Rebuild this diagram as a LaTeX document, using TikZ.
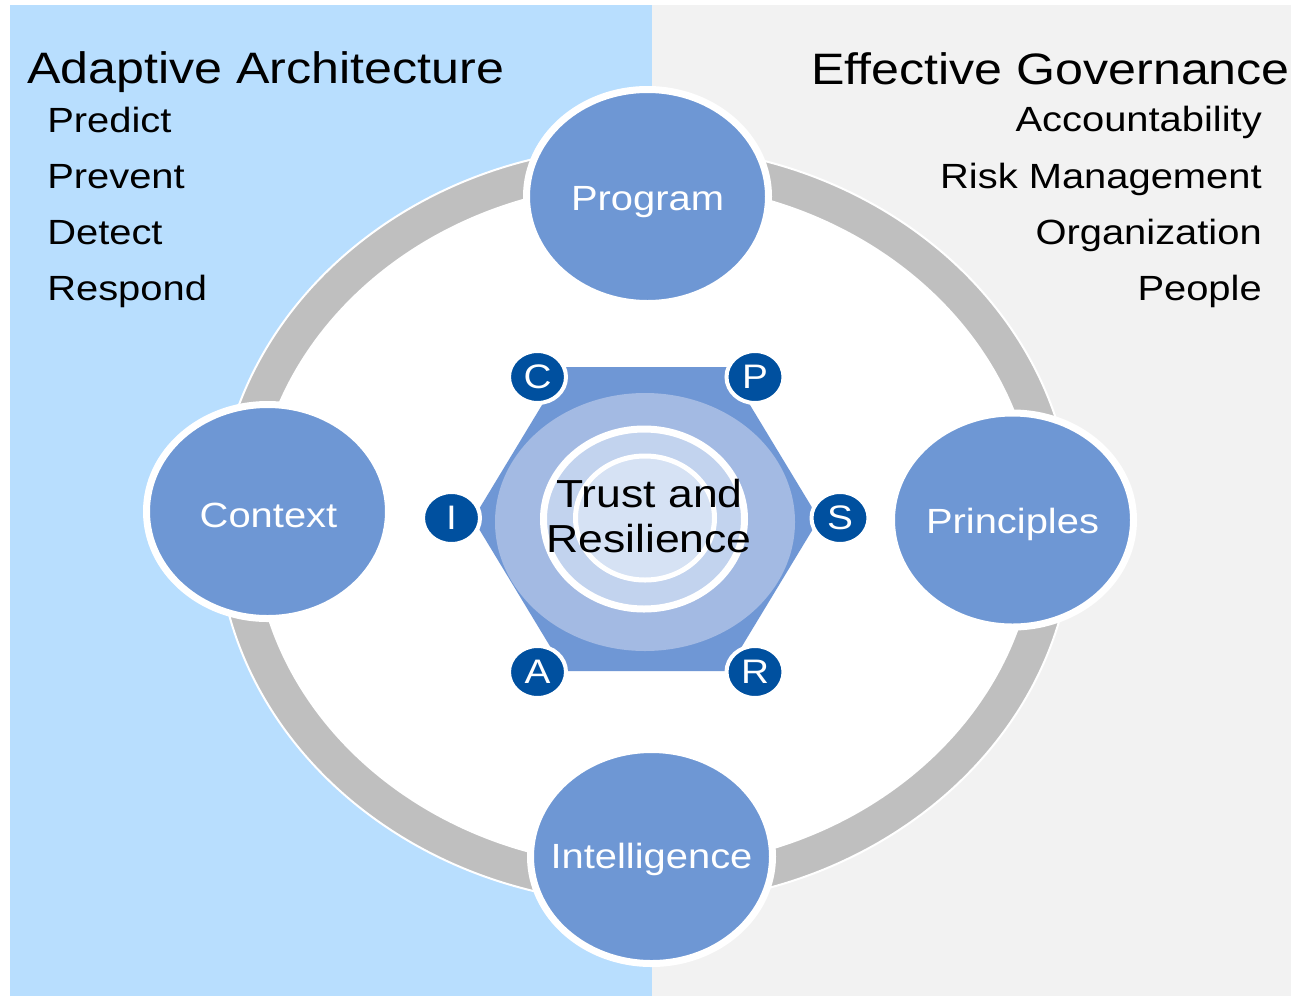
\documentclass[tikz,border=0pt]{standalone}
\usepackage{fontspec}
\setmainfont{Liberation Sans}[FakeStretch=1.14]
\usetikzlibrary{shapes.geometric}
\definecolor{panelblue}{RGB}{184,222,254}
\definecolor{panelgray}{RGB}{242,242,242}
\definecolor{ringgray}{RGB}{191,191,191}
\definecolor{midblue}{RGB}{110,151,212}
\definecolor{hexblue}{RGB}{111,151,213}
\definecolor{lightring}{RGB}{163,186,227}
\definecolor{paleblue}{RGB}{194,211,238}
\definecolor{palestblue}{RGB}{214,226,244}
\definecolor{darkblue}{RGB}{0,80,159}
\tikzset{
 bigcirc/.style={ellipse, fill=midblue, draw=white, line width=5.25pt, minimum width=181.5pt, minimum height=160.5pt, inner sep=0pt},
 letcirc/.style={ellipse, fill=darkblue, draw=white, line width=3pt, minimum width=42.75pt, minimum height=39pt, inner sep=0pt, text=white, font=\fontsize{25.5}{25.5}\selectfont},
 titletext/.style={anchor=base west, inner sep=0pt, font=\fontsize{33}{33}\selectfont},
 itemtext/.style={inner sep=0pt, font=\fontsize{26.25}{26.25}\selectfont},
 clabel/.style={anchor=base, inner sep=0pt, text=white, font=\fontsize{26.25}{26.25}\selectfont},
 centertext/.style={anchor=base, inner sep=0pt, font=\fontsize{29.3}{29.3}\selectfont},
}
\begin{document}
\begin{tikzpicture}[x=0.75pt, y=-0.75pt]
\useasboundingbox (0,0) rectangle (1291,996);
\fill[white] (0,0) rectangle (1291,996);
% panels
\fill[panelblue] (10,5) rectangle (652,996);
\fill[panelgray] (652,5) rectangle (1291,996);
% ring
\path[fill=ringgray, draw=white, line width=1.5pt] (645,525) ellipse [x radius=428, y radius=379];
\fill[white] (645,525) ellipse [x radius=392, y radius=343];
% outer circles
\node[bigcirc] (program) at (647.5,196.5) {};
\node[bigcirc] (context) at (267.5,511.5) {};
\node[bigcirc] (principles) at (1012.5,520) {};
\node[bigcirc] (intelligence) at (651.5,856.5) {};
% hexagon and centre
\fill[hexblue] (473,519) -- (565,367) -- (727,367) -- (819,519) -- (727,671) -- (565,671) -- cycle;
\fill[lightring] (645,522) ellipse [x radius=150, y radius=129];
\path[fill=paleblue, draw=white, line width=5.25pt] (644,519) ellipse [x radius=100.5, y radius=90];
\path[fill=palestblue, draw=white, line width=3.75pt] (645,518) ellipse [x radius=69.5, y radius=62];
% letter circles
\node[letcirc] (c) at (537.5,377) {C};
\node[letcirc] (p) at (755,377) {P};
\node[letcirc] (s) at (840,518) {S};
\node[letcirc] (i) at (451.5,518) {I};
\node[letcirc] (a) at (537.5,672) {A};
\node[letcirc] (r) at (755,672) {R};
% labels
\node[clabel] (programlbl) at (647.5,210) {Program};
\node[clabel] (contextlbl) at (268.5,527) {Context};
\node[clabel] (principleslbl) at (1012.5,533) {Principles};
\node[clabel] (intelligencelbl) at (651.5,868) {Intelligence};
\node[centertext] (trust1) at (649.5,507) {Trust and};
\node[centertext] (trust2) at (649,552) {Resilience};
% left texts
\node[titletext] (adaptive) at (27,83) {Adaptive Architecture};
\node[itemtext, anchor=base west] (predict) at (47,132) {Predict};
\node[itemtext, anchor=base west] (prevent) at (47,188) {Prevent};
\node[itemtext, anchor=base west] (detect) at (47,244) {Detect};
\node[itemtext, anchor=base west] (respond) at (47,300) {Respond};
% right texts
\node[titletext] (effective) at (811,84) {Effective Governance};
\node[itemtext, anchor=base east] (account) at (1262,131) {Accountability};
\node[itemtext, anchor=base east] (risk) at (1262,188) {Risk Management};
\node[itemtext, anchor=base east] (org) at (1262,244) {Organization};
\node[itemtext, anchor=base east] (people) at (1262,300) {People};
\end{tikzpicture}
\end{document}
